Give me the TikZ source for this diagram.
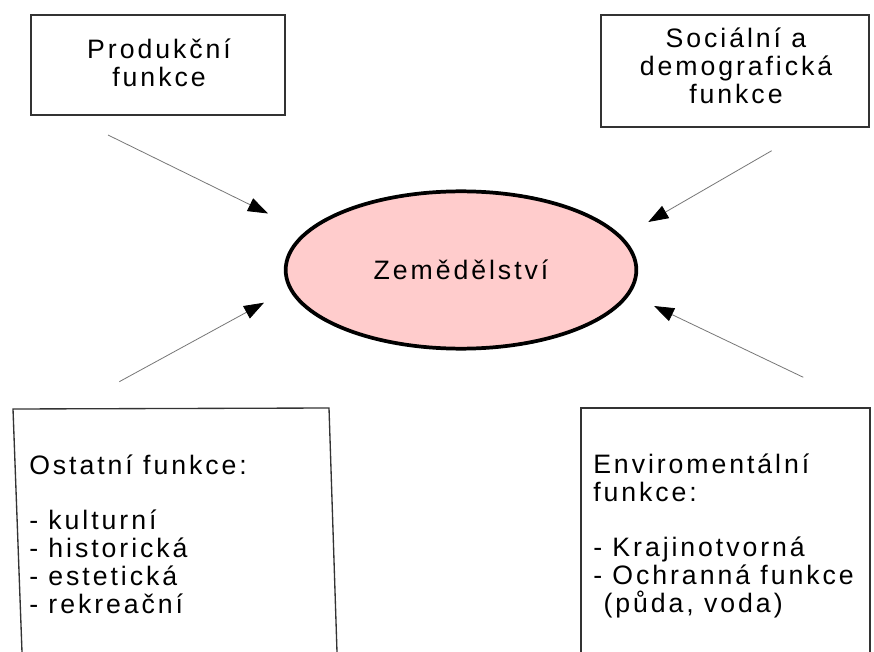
\documentclass[tikz,border=0pt]{standalone}
\usepackage{fontspec}
\setmainfont{Liberation Sans}[LetterSpace=11]
\usetikzlibrary{arrows.meta,shapes.geometric}
\definecolor{boxline}{HTML}{333333}
\definecolor{ellfill}{HTML}{FFCCCC}
\definecolor{arrline}{HTML}{777777}
\begin{document}
\begin{tikzpicture}[x=0.75pt,y=-0.75pt,
  boxframe/.style={draw=boxline, line width=1pt, rectangle, inner sep=0pt},
  boxtext/.style={font=\fontsize{20pt}{20.8pt}\selectfont, inner sep=0pt, text=black},
  feed/.style={draw=arrline, line width=0.6pt, -{Triangle[length=15pt,width=10.5pt,black]}}]
\useasboundingbox (0,0) rectangle (874,652);
\fill[white] (0,0) rectangle (874,652);

% top-left box
\node[boxframe, minimum width=190.5pt, minimum height=75pt] (prodbox) at (158,65) {};
\node[boxtext, align=center, anchor=base] (prod) at (159,86.7) {Produkční\\funkce};

% top-right box
\node[boxframe, minimum width=201pt, minimum height=84pt] (socbox) at (735,71) {};
\node[boxtext, align=center, anchor=base] (soc) at (736,103.3) {Sociální a\\demografická\\funkce};

% ellipse
\node[ellipse, draw=black, line width=2.8pt, fill=ellfill, minimum width=263pt, minimum height=118pt,
      inner sep=0pt, text height=14pt, text depth=0pt, font=\fontsize{20pt}{20.8pt}\selectfont]
      (zem) at (461,270) {Zemědělství};

% bottom-left box (open at the bottom)
\coordinate (olbl) at (22,652);
\coordinate (oltl) at (13,409);
\coordinate (oltr) at (329,408);
\coordinate (olbr) at (337,652);
\draw[draw=boxline, line width=1pt] (olbl) -- (oltl) -- (oltr) -- (olbr);
\node[boxtext, align=left, anchor=base west] (ost) at (29,613)
  {Ostatní funkce:\\[20.8pt]- kulturní\\- historická\\- estetická\\- rekreační};

% bottom-right box (open at the bottom)
\coordinate (envbl) at (581,652);
\coordinate (envtl) at (581,408);
\coordinate (envtr) at (870,408);
\coordinate (envbr) at (870,652);
\draw[draw=boxline, line width=1pt] (envbl) -- (envtl) -- (envtr) -- (envbr);
\node[boxtext, align=left, anchor=base west] (env) at (593,612)
  {Enviromentální\\funkce:\\[20.8pt]- Krajinotvorná\\- Ochranná funkce\\\ (půda, voda)};

% arrows
\coordinate (a1s) at (108,135);   \coordinate (a1e) at (268,213.5);
\coordinate (a2s) at (771.7,150.7); \coordinate (a2e) at (648.3,222);
\coordinate (a3s) at (119.3,381.7); \coordinate (a3e) at (264,302.7);
\coordinate (a4s) at (803.3,377.3); \coordinate (a4e) at (654,306);
\draw[feed] (a1s) -- (a1e);
\draw[feed] (a2s) -- (a2e);
\draw[feed] (a3s) -- (a3e);
\draw[feed] (a4s) -- (a4e);
\end{tikzpicture}
\end{document}
